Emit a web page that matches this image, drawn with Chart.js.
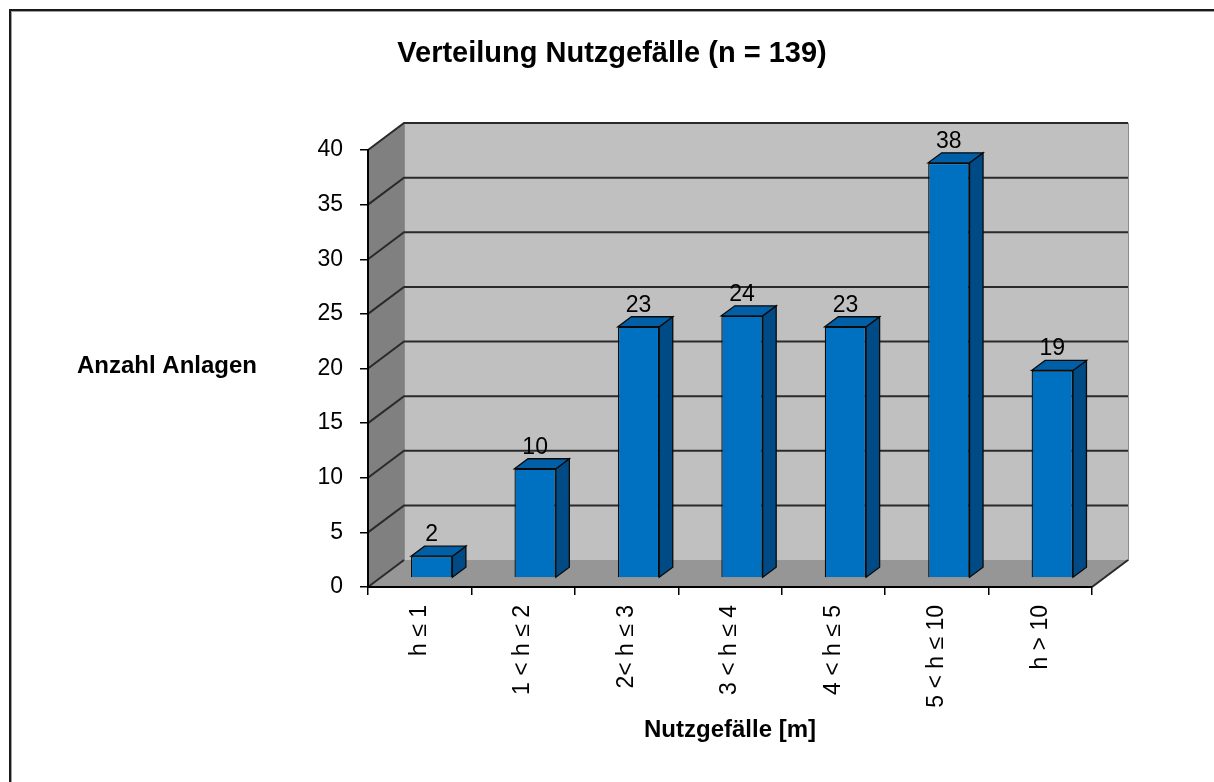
<!DOCTYPE html>
<html>
<head>
<meta charset="utf-8">
<script src="https://cdn.jsdelivr.net/npm/chart.js@4.4.1/dist/chart.umd.min.js"></script>
<style>
  html, body { margin: 0; padding: 0; background: #fff; overflow: hidden; }
  canvas { display: block; }
</style>
</head>
<body>
<canvas id="chart" width="1214" height="782"></canvas>
<script>
// Chart data
const categories = ['h ≤ 1', '1 < h ≤ 2', '2< h ≤ 3', '3 < h ≤ 4', '4 < h ≤ 5', '5 < h ≤ 10', 'h > 10'];
const counts = [2, 10, 23, 24, 23, 38, 19];
const chartTitle = 'Verteilung Nutzgefälle (n = 139)';
const yAxisLabel = 'Anzahl Anlagen';
const xAxisLabel = 'Nutzgefälle [m]';

// Look
const FONT = "'Liberation Sans', Arial, sans-serif";
const colors = {
  backWall: '#c0c0c0',
  sideWall: '#808080',
  floor: '#969696',
  grid: '#2a2a2a',
  barFront: '#0070c0',
  barTop: '#005fa6',
  barSide: '#004b86'
};
const WALL = { dx: 36, dy: -27 };      // depth of the back wall
const BAR_SHIFT = { dx: 12, dy: -9 };  // bars sit a bit behind the front plane
const BAR_DEPTH = { dx: 13.5, dy: -10 };

function poly(ctx, pts, fill, stroke, width) {
  ctx.beginPath();
  pts.forEach(([x, y], i) => i ? ctx.lineTo(x, y) : ctx.moveTo(x, y));
  ctx.closePath();
  if (fill) { ctx.fillStyle = fill; ctx.fill(); }
  if (stroke) { ctx.strokeStyle = stroke; ctx.lineWidth = width || 1; ctx.stroke(); }
}

// Background, frame, walls, floor, gridlines and free texts
const wallsPlugin = {
  id: 'walls3d',
  beforeDraw(chart) {
    const { ctx, chartArea: a, scales: { y } } = chart;
    const { dx, dy } = WALL;
    ctx.save();
    ctx.fillStyle = '#fff';
    ctx.fillRect(0, 0, chart.width, chart.height);

    // outer frame (only top and left visible)
    ctx.fillStyle = '#1a1a1a';
    ctx.fillRect(9, 9, chart.width, 2);
    ctx.fillRect(9, 9, 2, chart.height);
    ctx.fillStyle = '#a0a0a0';
    ctx.fillRect(11, 11, chart.width, 1);
    ctx.fillRect(11, 11, 1, chart.height);

    // back wall
    ctx.fillStyle = colors.backWall;
    ctx.fillRect(a.left + dx, a.top + dy, a.right - a.left, a.bottom - a.top);
    ctx.strokeStyle = '#8c8c8c';
    ctx.lineWidth = 1;
    ctx.strokeRect(a.left + dx + 0.5, a.top + dy + 0.5, a.right - a.left, a.bottom - a.top);

    // side wall and floor
    poly(ctx, [[a.left, a.top], [a.left + dx, a.top + dy], [a.left + dx, a.bottom + dy], [a.left, a.bottom]], colors.sideWall);
    poly(ctx, [[a.left, a.bottom], [a.left + dx, a.bottom + dy], [a.right + dx, a.bottom + dy], [a.right, a.bottom]], colors.floor);

    // gridlines on side wall + back wall
    ctx.strokeStyle = colors.grid;
    ctx.lineWidth = 2;
    y.ticks.forEach(t => {
      const py = y.getPixelForValue(t.value);
      ctx.beginPath();
      ctx.moveTo(a.left, py);
      ctx.lineTo(a.left + dx, py + dy);
      if (t.value !== 0) ctx.lineTo(a.right + dx, py + dy);
      ctx.stroke();
    });
    // right edge of the floor
    ctx.beginPath();
    ctx.moveTo(a.right, a.bottom);
    ctx.lineTo(a.right + dx, a.bottom + dy);
    ctx.stroke();

    // title and horizontal y label
    ctx.fillStyle = '#000';
    ctx.textAlign = 'center';
    ctx.textBaseline = 'middle';
    ctx.font = 'bold 29px ' + FONT;
    ctx.fillText(chartTitle, 612, 54);
    ctx.font = 'bold 24px ' + FONT;
    ctx.fillText(yAxisLabel, 167, 366);
    ctx.restore();
  },
  beforeDatasetsDraw(chart) {
    chart.ctx.save();
    chart.ctx.translate(BAR_SHIFT.dx, BAR_SHIFT.dy);
  },
  afterDatasetsDraw(chart) {
    const { ctx } = chart;
    const meta = chart.getDatasetMeta(0);
    const { dx, dy } = BAR_DEPTH;
    meta.data.forEach((bar, i) => {
      const l = bar.x - bar.width / 2, r = bar.x + bar.width / 2;
      const top = bar.y, base = bar.base;
      poly(ctx, [[r, top], [r + dx, top + dy], [r + dx, base + dy], [r, base]], colors.barSide, '#0a0a0a', 1.3);
      poly(ctx, [[l, top], [l + dx, top + dy], [r + dx, top + dy], [r, top]], colors.barTop, '#0a0a0a', 1.3);
      ctx.fillStyle = '#000';
      ctx.font = '23px ' + FONT;
      ctx.textAlign = 'center';
      ctx.textBaseline = 'alphabetic';
      ctx.fillText(String(counts[i]), bar.x, top - 15);
    });
    ctx.restore();
  }
};

new Chart(document.getElementById('chart'), {
  type: 'bar',
  data: {
    labels: categories,
    datasets: [{
      data: counts,
      backgroundColor: colors.barFront,
      borderColor: '#0a0a0a',
      borderWidth: 1.3,
      barPercentage: 0.4,
      categoryPercentage: 1
    }]
  },
  options: {
    responsive: false,
    animation: false,
    devicePixelRatio: 1,
    layout: { padding: { top: 150, right: 122, bottom: 0, left: 0 } },
    plugins: {
      legend: { display: false },
      title: { display: false },
      tooltip: { enabled: false }
    },
    scales: {
      x: {
        afterFit(scale) { scale.height = 195; },
        grid: { drawOnChartArea: false, tickLength: 8, color: '#000', lineWidth: 1.5 },
        border: { color: '#000', width: 2 },
        ticks: {
          autoSkip: false, minRotation: 90, maxRotation: 90,
          padding: 10, color: '#000', font: { family: FONT, size: 23 }
        },
        title: {
          display: true, text: xAxisLabel, color: '#000',
          font: { family: FONT, size: 24, weight: 'bold' },
          padding: { top: 0, bottom: 37 }
        }
      },
      y: {
        min: 0, max: 40,
        afterFit(scale) { scale.width = 368; },
        grid: { drawOnChartArea: false, tickLength: 8, color: '#000', lineWidth: 1.5 },
        border: { color: '#000', width: 2 },
        ticks: { stepSize: 5, padding: 17, color: '#000', font: { family: FONT, size: 23 } }
      }
    }
  },
  plugins: [wallsPlugin]
});
</script>
</body>
</html>
